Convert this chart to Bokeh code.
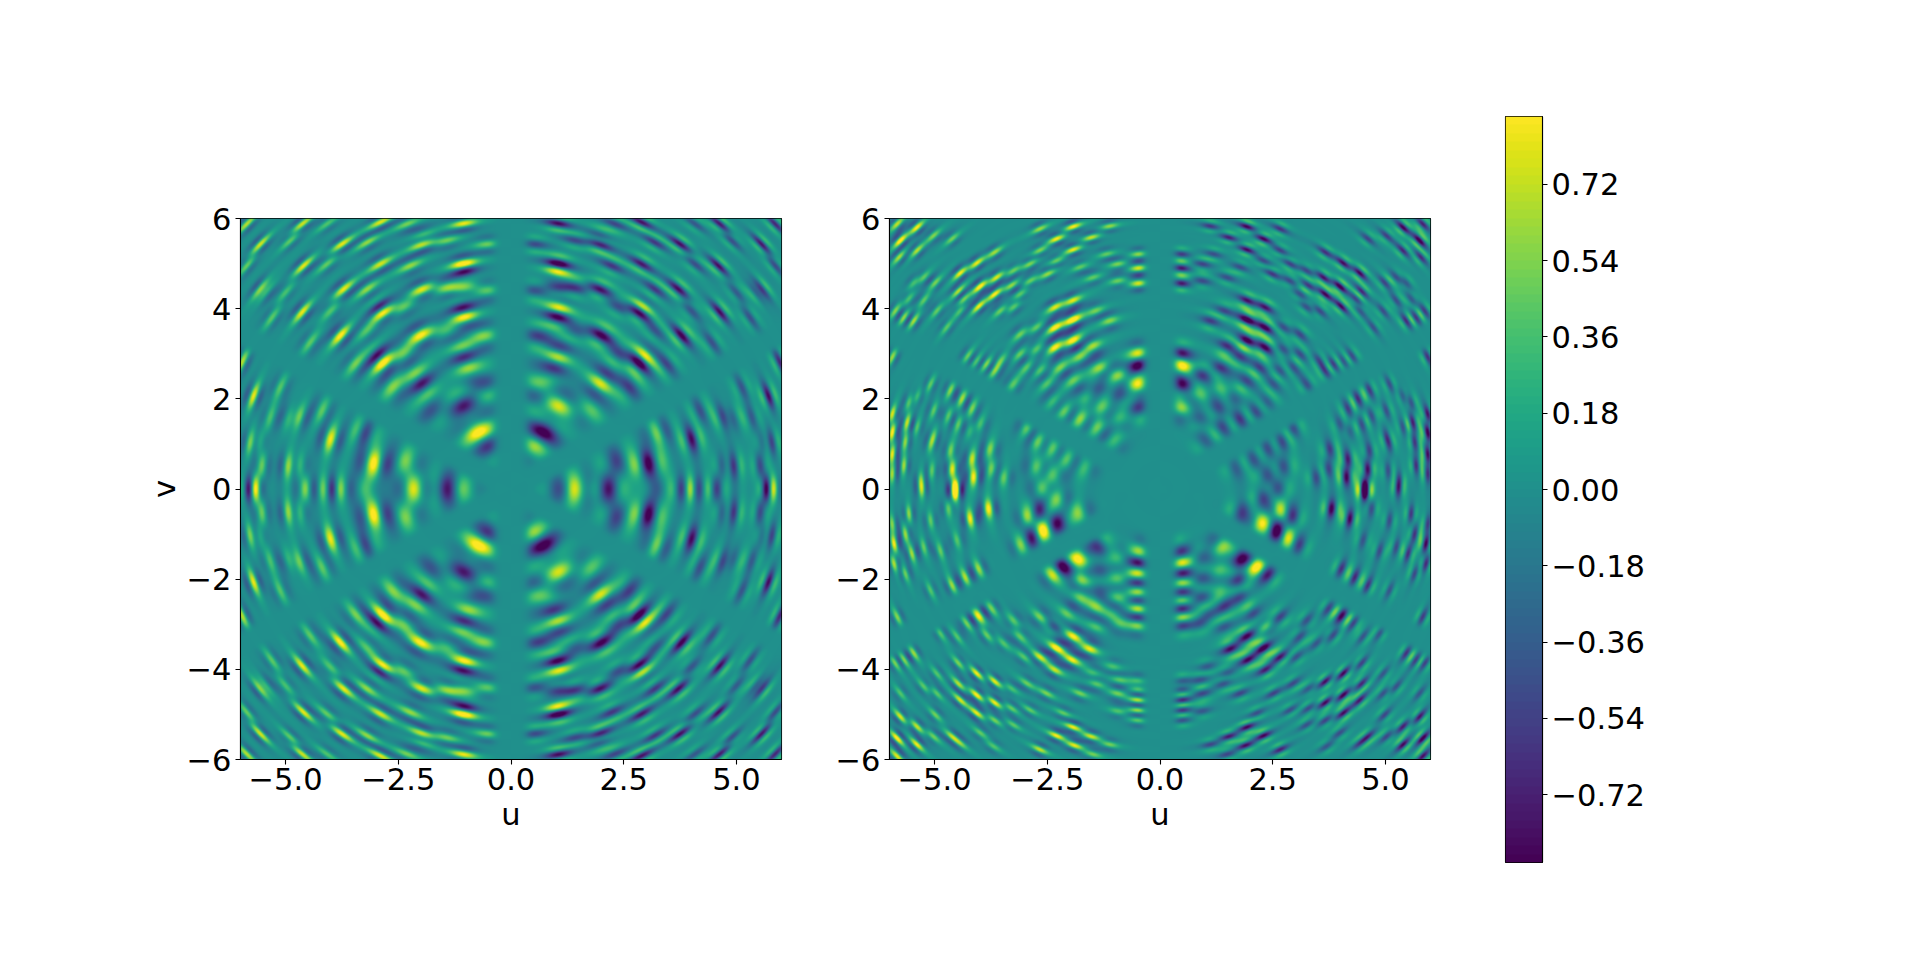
import numpy as np
from bokeh.embed import file_html
from bokeh.resources import INLINE
from bokeh.layouts import row, column
from bokeh.models import LinearColorMapper, FixedTicker, Range1d, Spacer
from bokeh.palettes import Viridis256
from bokeh.plotting import figure

# Blobs: (u, v, height). Only the prominent ones; the raster
# below is a reconstruction from these readings, not the original fine-grained array.
# Left panel: upper-left quadrant; it is mirrored (even in v, odd in u) as seen in the picture.
left_u = [-2.16,-1.42,-1.01,-3.27,-3.83,-3.98,-4.13,-4.57,-5.68,-5.83,-3.05,-2.35,-4.01,-3.27,-3.39,-4.94,-4.72,-5.53,-5.79,-5.61,-4.92,-4.72,-5.72,-4.2,-.72,-.46,-1.05,-1.79,-2.01,-2.05,-2.64,-2.87,-2.94,-1.05,-1.05,-.98,-2.01,-1.05,-1.05,-.61,-.61,-.53,-2.87,-2.9,-3.79,-4.64,-1.98,-3.72,-2.9,-1.05,-1.05,-1.05,-1.98,-1.98,-1.05,-3.76,-4.61,-5.57,-5.57,-5.46,-5.98,-3.2,-2.24,-1.42,-1.42,-2.39,-3.2,-3.46,-4.46,-4.01,-5.31,-4.9,-4.09,-2.9,-4.64,-5.87,-2.31,-4.09,-.53,-.53,-3.2,-2.39,-1.42,-5.87,-5.01,-5.35,-5.13]
left_v = [0,0,0,0,0,0,0,0,0,0,.57,.63,1.11,1.26,1.30,.52,.52,.52,1.04,1.04,1.59,1.59,2.07,1.74,1.26,.93,1.85,1.74,2.37,2.52,2.26,2.81,2.96,2.94,3.11,2.76,3.42,3.85,4.0,3.41,2.33,2.11,3.93,4.04,3.41,3.93,4.44,4.44,5.0,5.0,4.85,4.48,5.44,5.63,5.9,5.44,4.96,5.44,4.44,4.37,2.81,5.48,4.96,5.52,4.48,4.04,4.44,2.78,3.26,3.96,3.81,5.52,5.0,5.93,5.89,5.89,5.89,5.89,5.44,4.41,3.52,3.0,3.52,4.96,4.37,1.59,2.26]
left_w = [.85,-.75,.2,.3,.5,-.6,.45,.6,.75,-.5,.95,.55,.85,-.5,.35,.8,.55,.5,.7,.4,.55,.7,.85,.45,.95,-.3,-.85,-.45,-.85,.5,.55,.9,-.6,-.7,.55,.45,.9,.8,-.7,.55,-.4,.3,.85,-.6,.95,.85,.85,.85,.75,.95,-.5,.55,.9,.6,.85,.85,.85,.8,.85,.65,.7,.6,.6,.5,.6,.5,.6,.5,.45,.45,.45,.5,.5,.8,.8,.7,.5,.4,.5,.45,.4,.5,.4,.5,.4,.35,.4]

# Right panel: left half; it is mirrored with the sign flipped (odd in u), as seen in the picture.
right_u = [-.49,-.49,-.46,-.46,-.94,-.9,-.9,-1.01,-1.31,-1.42,-1.78,-2.12,-2.37,-1.64,-1.34,-2.71,-2.41,-2.08,-2.74,-2.41,-2.63,-2.96,-1.71,-4.18,-4.62,-4.14,-4.55,-3.78,-3.74,-3.48,-5.1,-5.69,-5.66,-5.62,-5.58,-5.95,-5.95,-5.95,-5.95,-5.32,-4.66,-4.4,-4.18,-4.7,-4.48,-4.66,-4.07,-3.85,-3.67,-4.26,-2.34,-1.93,-2.34,-1.93,-2.34,-1.93,-2.74,-2.74,-.46,-.46,-.46,-.94,-.94,-1.12,-1.49,-1.34,-1.93,-2.3,-1.93,-1.53,-1.12,-2.67,-2.67,-2.3,-2.49,-2.89,-2.89,-4.44,-4.07,-3.67,-4.0,-3.63,-4.48,-3.67,-4.03,-4.37,-3.26,-3.3,-5.77,-5.4,-5.4,-5.8,-5.84,-5.03,-4.62,-5.47,-5.69,-5.88,-5.95,-5.25,-5.58,-4.99,
           -2.6,-2.26,-2.67,-2.3,-1.82,-2.96,-2.85,-3.11,-1.8,-2.15,-1.38,-2.41,-1.75,-1.34,-.94,-.49,-.49,-.49,-.49,-.49,-.94,-.94,-1.34,-.49,-.49,-.49,-.49,-1.93,-2.3,-1.56,-1.95,-2.67,-2.34,-2.67,-2.34,-4.07,-3.74,-4.33,-4.03,-4.62,-4.07,-3.67,-4.48,-4.07,-3.67,-4.44,-4.07,-3.67,-3.3,-3.3,-.49,-.49,-.49,-.49,-.49,-.94,-.94,-1.93,-2.3,-1.53,-1.9,-1.12,-2.67,-1.49,-5.77,-5.4,-5.84,-5.4,-5.84,-4.62,-5.03,-4.99,-5.91,-5.91,-5.66,-5.51,-5.58,-4.55,-4.22,-3.81,-4.7,-5.29,-5.95,-5.66,-5.84,-5.47,-5.69,-5.88,-4.0,-4.29,-3.85,-4.48]
right_v = [2.33,2.74,3.04,1.81,2.54,2.11,1.59,1.11,1.81,1.37,1.56,1.74,1.93,2.0,2.26,1.04,.89,.67,.48,.33,0,1.33,.48,.67,.44,.26,0,.89,.44,.26,1.0,.52,1.04,1.48,1.93,1.67,1.26,.78,.33,.19,2.19,2.0,1.78,1.63,1.44,.85,2.85,2.78,2.63,2.96,3.15,3.3,3.59,3.76,4.04,4.19,3.11,3.59,4.57,4.91,5.22,4.63,5.0,3.74,3.19,2.7,5.83,5.56,5.32,5.59,5.84,5.78,5.3,5.07,4.78,5.0,4.63,4.8,5.02,5.26,4.5,4.7,4.39,4.33,4.06,4.22,4.85,4.52,5.52,5.81,5.3,5.15,5.89,5.63,5.56,3.74,3.81,3.96,2.93,4.19,4.22,4.59,
           -.92,-.74,-.46,-.22,-.52,-.63,-1.11,-1.25,-1.56,-1.73,-1.29,-1.92,-2.03,-1.81,-1.53,-1.4,-1.88,-2.3,-2.66,-3.0,-1.99,-2.4,-2.25,-1.66,-2.1,-2.47,-2.84,-3.27,-3.53,-3.56,-3.8,-3.73,-4.02,-2.84,-3.06,-2.84,-2.66,-1.96,-1.77,-2.14,-4.1,-4.28,-4.33,-4.58,-4.75,-4.69,-4.98,-5.14,-4.87,-4.43,-4.46,-4.69,-4.91,-4.28,-5.13,-4.54,-4.94,-5.29,-5.48,-5.5,-5.7,-5.68,-5.79,-5.9,-5.06,-5.28,-5.54,-5.68,-5.94,-5.5,-5.5,-5.02,-1.22,-1.66,-1.0,-1.44,-.55,-.04,-.66,-.44,-.44,0,-.77,-1.88,-2.84,-3.65,-3.8,-3.87,-2.8,-2.99,-3.25,-3.87]
right_w = [.9,-.75,.55,-.65,.65,-.5,.4,.35,.6,.65,.8,.75,.5,.45,-.4,.7,.7,.6,.55,.5,.55,.5,.4,.7,.8,.85,.8,.55,.55,.5,.4,.6,.55,.7,.5,.8,.95,.8,.6,.45,.55,.65,.55,.45,.45,.5,.5,.7,.55,.5,.9,.95,.9,1.0,.75,.75,.5,.5,.8,.8,.6,.5,.55,.55,.6,.6,.9,.9,.85,.75,.6,.6,.55,.5,.6,.55,.5,.85,.8,.6,.95,.8,.7,.85,.8,.55,.5,.6,.95,.85,.65,.65,.7,.5,.5,.65,.6,.55,.6,.45,.4,.5,
           .85,-.8,-.7,.6,.55,.5,-.5,.4,.9,-.75,-.6,.5,.7,-.45,.45,.5,.7,.85,.85,.55,.6,.6,-.4,-.6,-.6,-.6,-.5,.9,.95,.8,.8,.75,.7,.55,-.5,.6,.5,.65,.6,.6,.9,.85,.7,.95,.9,.7,.8,.55,.5,.4,.7,.85,.75,.55,.5,.5,.4,.85,.85,.75,.8,.5,.7,.5,.8,.75,.95,.85,.8,.6,.5,.5,.85,.7,.6,.6,.6,.9,.85,.9,.5,.6,.5,.5,.55,.6,.55,.55,.65,.5,.5,.55]

# Right panel, fainter blobs between the prominent ones
right_faint_u = [-3.26,-3.55,-3.11,-3.11,-3.11,-3.55,-2.96,-3.26,-2.67,-2.23,-1.78,-2.52,-1.93,-5.25,-5.47,-4.96,-4.74,-4.44,-5.1,-5.03,-5.03,-5.07,-5.4,-5.4,-4.22,-4.0,-1.42,-1.49,-1.78,-1.19,
                 -3.26,-3.11,-3.48,-3.02,-2.96,-2.52,-1.78,-1.42,-2.89,-2.15,-3.26,-3.99,-3.7,-4.44,-4.96,-5.25,-5.77,-4.96,-4.88,-4.51,-5.1,-5.25,-5.1,-4.88,-4.51,-1.42,-1.78,-2.08,-1.05,-1.42,-1.05,-1.49,-.9,-.9]
right_faint_v = [4.04,3.96,4.33,3.44,3.0,2.85,2.7,2.33,2.63,2.7,2.93,2.33,2.41,4.7,4.59,3.96,3.59,3.96,2.33,1.74,1.15,.41,1.37,2.04,1.3,1.44,3.96,4.7,4.93,5.22,
                 -2.92,-3.28,-3.43,-3.73,-4.32,-4.54,-4.54,-4.32,-4.91,-4.98,-5.24,-5.42,-5.72,-5.65,-4.54,-4.39,-4.54,-4.1,-3.21,-3.28,-2.25,-1.29,-.7,-1.37,-1.14,-2.62,-2.4,-2.77,-2.77,-3.06,-3.95,-4.1,-4.24,-2.99]
right_faint_w = [.5,.5,.45,.5,.5,.45,.45,.4,.5,.5,.5,.4,.45,.45,.4,.45,.4,.4,.45,.45,.45,.45,.4,.4,.35,.4,.45,.45,.45,.45,
                 .45,.45,.4,.45,.45,.5,.5,.5,.45,.45,.45,.45,.4,.45,.45,.45,.4,.4,.4,.4,.4,.45,.45,.45,.4,.45,.5,.45,.4,.4,.4,.4,.4,.4]

# Quiet bands seen in both panels: lines through the origin (degrees) and half-width in u, v
quiet_angles = [90, 30, 150]
quiet_widths = [0.36, 0.24, 0.24]

x_ticks = [-5.0, -2.5, 0.0, 2.5, 5.0]
x_labels = ["\u22125.0", "\u22122.5", "0.0", "2.5", "5.0"]
y_ticks = [-6, -4, -2, 0, 2, 4, 6]
y_labels = ["\u22126", "\u22124", "\u22122", "0", "2", "4", "6"]
bar_ticks = [-0.72, -0.54, -0.36, -0.18, 0.0, 0.18, 0.36, 0.54, 0.72]
bar_labels = ["\u22120.72", "\u22120.54", "\u22120.36", "\u22120.18", "0.00", "0.18", "0.36", "0.54", "0.72"]
z_low, z_high = -0.88, 0.88

FONT = "DejaVu Sans"
SIZE = "30.5px"
N = 541
axis_vals = np.linspace(-6, 6, N, dtype=np.float32)
gx, gy = np.meshgrid(axis_vals, axis_vals)
gr = np.hypot(gx, gy)
gth = np.arctan2(gy, gx)

mask = np.ones_like(gx)
for ang, wid in zip(quiet_angles, quiet_widths):
    t = np.radians(ang)
    d = np.abs(gx * np.sin(t) - gy * np.cos(t))
    mask *= 1 - np.exp(-(d / wid) ** 4)


def raster(us, vs, ws, lam_k, lam_max, st0, arc_share, arc_len, gain):
    """Smooth the read blobs on polar coordinates: each lies along a circle round the origin."""
    z = np.zeros((N, N), dtype=np.float32)
    for u, v, w in zip(us, vs, ws):
        r = max(float(np.hypot(u, v)), 0.3)
        th = float(np.arctan2(v, u))
        lam = float(np.clip(lam_k / r, 0.3, lam_max))
        sr = lam / 3.0
        st = st0 + 0.08 / r
        dr = gr - r
        dth = np.angle(np.exp(1j * (gth - th)))
        dt = dth * r
        carrier = np.exp(-dr**2 / (2 * sr**2)) * np.cos(2 * np.pi * dr / lam)
        env = (1 - arc_share) * np.exp(-dt**2 / (2 * st**2)) + arc_share * np.exp(-dt**2 / (2 * (arc_len * st)**2))
        z += w * carrier * env
    return z * mask * gain


def mirror_left():
    us, vs, ws = [], [], []
    for u, v, w in zip(left_u, left_v, left_w):
        for a, b, c in ([(u, v, w), (-u, v, -w)] if v == 0 else
                        [(u, v, w), (-u, v, -w), (u, -v, w), (-u, -v, -w)]):
            us.append(a); vs.append(b); ws.append(c)
    return us, vs, ws


def mirror_right():
    us, vs, ws = [], [], []
    for u, v, w in zip(right_u + right_faint_u, right_v + right_faint_v, right_w + right_faint_w):
        us += [u, -u]; vs += [v, v]; ws += [w, -w]
    return us, vs, ws


mapper = LinearColorMapper(palette=Viridis256, low=z_low, high=z_high)


def style_axis(ax):
    ax.major_label_text_font = FONT
    ax.major_label_text_font_size = SIZE
    ax.major_label_text_color = "black"
    ax.axis_label_text_font = FONT
    ax.axis_label_text_font_size = SIZE
    ax.axis_label_text_font_style = "normal"
    ax.axis_label_text_color = "black"
    ax.axis_line_color = "black"
    ax.axis_line_width = 1.1
    ax.major_tick_line_color = "black"
    ax.major_tick_line_width = 1.1
    ax.major_tick_in = 0
    ax.major_tick_out = 5
    ax.minor_tick_line_color = None


def panel(z, left_border, right_border, y_label):
    p = figure(frame_width=541, frame_height=541, output_backend="svg", toolbar_location=None,
               x_range=Range1d(-6, 6), y_range=Range1d(-6, 6),
               min_border_left=left_border, min_border_right=right_border,
               min_border_top=116, min_border_bottom=90, background_fill_color="white",
               x_axis_label="u", y_axis_label=y_label)
    p.image(image=[z], x=-6, y=-6, dw=12, dh=12, color_mapper=mapper)
    p.grid.visible = False
    p.outline_line_color = "black"
    p.outline_line_width = 1.1
    p.xaxis.ticker = FixedTicker(ticks=x_ticks)
    p.xaxis.major_label_overrides = dict(zip(x_ticks, x_labels))
    p.yaxis.ticker = FixedTicker(ticks=y_ticks)
    p.yaxis.major_label_overrides = dict(zip(y_ticks, y_labels))
    p.xaxis.axis_label_standoff = 4
    p.yaxis.axis_label_standoff = 2
    style_axis(p.xaxis[0]); style_axis(p.yaxis[0])
    p.xaxis.major_label_standoff = 3
    p.yaxis.major_label_standoff = 4
    return p


p1 = panel(raster(*mirror_left(), 2.3, 0.85, 0.19, 0.14, 2.5, 1.0), 240, 20, "v")
p2 = panel(raster(*mirror_right(), 1.7, 0.7, 0.12, 0.2, 2.5, 1.05), 88, 20, None)

# Colour bar: one band per 0.02 step, as the reference shows
levels = np.arange(z_low + 0.01, z_high, 0.02)
bar = figure(frame_width=37, frame_height=746, output_backend="svg", toolbar_location=None,
             x_range=Range1d(0, 1), y_range=Range1d(z_low, z_high),
             min_border_left=55, min_border_right=125, min_border_top=116, min_border_bottom=50,
             y_axis_location="right")
bar.image(image=[levels.reshape(-1, 1)], x=0, y=z_low, dw=1, dh=z_high - z_low, color_mapper=mapper)
bar.grid.visible = False
bar.xaxis.visible = False
bar.outline_line_color = "black"
bar.outline_line_width = 1.1
bar.yaxis.ticker = FixedTicker(ticks=bar_ticks)
bar.yaxis.major_label_overrides = dict(zip(bar_ticks, bar_labels))
style_axis(bar.yaxis[0])
bar.yaxis.major_label_standoff = 4

layout = row(column(Spacer(height=102), p1), column(Spacer(height=102), p2), bar)
open("out.html", "w").write(file_html(layout, INLINE))
